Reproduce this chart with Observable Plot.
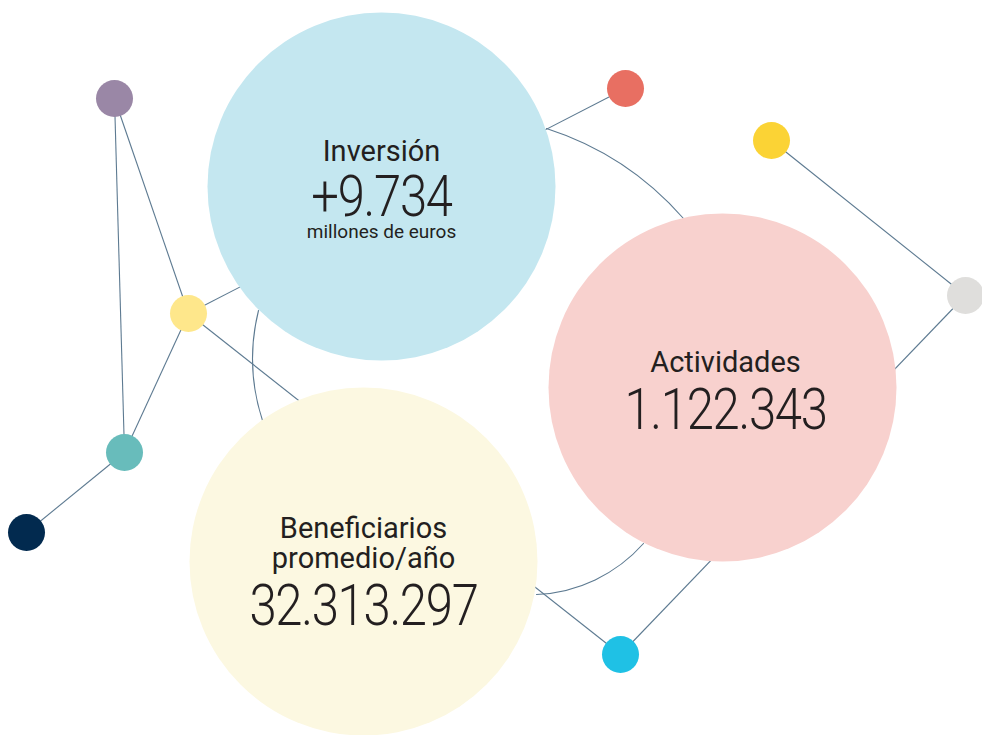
<!DOCTYPE html>
<html>
<head>
<meta charset="utf-8">
<script src="https://cdn.jsdelivr.net/npm/d3@7"></script>
<script src="https://cdn.jsdelivr.net/npm/@observablehq/plot@0.6"></script>
<style>
  html, body { margin: 0; padding: 0; background: #fff; }
  #chart svg { display: block; }
  .bubble-value text { letter-spacing: -1.5px; }
</style>
</head>
<body>
<div id="chart"></div>
<script>
// Small network nodes
const nodeNames  = ["purple", "red", "gold", "grey", "lightYellow", "teal", "navy", "cyan"];
const nodeX      = [114, 625, 771, 965, 188, 124, 26, 620];
const nodeY      = [98, 88, 140, 295, 313, 452, 532, 654];
const nodeColors = ["#9a87a6", "#e86f62", "#fbd335", "#dfdedc", "#fee78b", "#68bcbb", "#022a4f", "#1fc1e5"];

// Straight links between nodes
const linkFrom = ["purple", "purple", "lightYellow", "teal", "red", "lightYellow", "gold", "grey"];
const linkTo   = ["teal", "lightYellow", "teal", "navy", "lightYellow", "cyan", "grey", "cyan"];

// Curved links between the big bubbles (visible end points)
const arcX1   = [546, 258, 536];
const arcY1   = [128, 310, 594];
const arcX2   = [683, 262, 643];
const arcY2   = [218, 420, 543];
const arcBend = [15.5, -16, -23];

// Big bubbles
const bubbleLabels = [["Inversión"], ["Actividades"], ["Beneficiarios", "promedio/año"]];
const bubbleValues = ["+9.734", "1.122.343", "32.313.297"];
const bubbleUnits  = ["millones de euros", "", ""];
const bubbleX      = [381, 722, 363];
const bubbleY      = [186, 387, 561];
const bubbleColors = ["#c4e7f0", "#f8d1ce", "#fcf8e1"];

const nodes = nodeNames.map((n, i) => ({name: n, x: nodeX[i], y: nodeY[i], color: nodeColors[i]}));
const byName = Object.fromEntries(nodes.map(d => [d.name, d]));
const links = linkFrom.map((f, i) => ({x1: byName[f].x, y1: byName[f].y, x2: byName[linkTo[i]].x, y2: byName[linkTo[i]].y}));
const arcs = arcX1.map((x, i) => ({x1: x, y1: arcY1[i], x2: arcX2[i], y2: arcY2[i], bend: arcBend[i]}));
const bubbles = bubbleValues.map((v, i) => ({label: bubbleLabels[i], value: v, unit: bubbleUnits[i], x: bubbleX[i], y: bubbleY[i], color: bubbleColors[i]}));

// label lines
const labelRows = [];
bubbles.forEach(b => {
  const n = b.label.length;
  const valueBaseline = b.unit ? b.y + 29 : b.y + (n === 2 ? 63 : 41);
  const gap = b.unit ? 55 : 57;
  b.label.forEach((t, j) => labelRows.push({x: b.x + (n === 1 && !b.unit ? 3 : 0), y: valueBaseline - gap - (n - 1 - j) * 30, text: t}));
  b.valueBaseline = valueBaseline;
});

const lineColor = "#5d7a91";
const font = "Roboto, 'Noto Sans', sans-serif";

const arcMarks = arcs.map(a => Plot.arrow([a], {x1: "x1", y1: "y1", x2: "x2", y2: "y2", bend: a.bend, headLength: 0, stroke: lineColor, strokeWidth: 1.1}));

const chart = Plot.plot({
  width: 982,
  height: 735,
  margin: 0,
  x: {domain: [0, 982], range: [0, 982], axis: null},
  y: {domain: [0, 735], range: [0, 735], axis: null},
  style: {background: "#ffffff", fontFamily: font},
  marks: [
    Plot.link(links, {x1: "x1", y1: "y1", x2: "x2", y2: "y2", stroke: lineColor, strokeWidth: 1.1}),
    ...arcMarks,
    Plot.dot(nodes, {x: "x", y: "y", r: 18.5, fill: "color", stroke: null}),
    Plot.dot(bubbles, {x: "x", y: "y", r: 174, fill: "color", stroke: null}),
    Plot.text(labelRows, {x: "x", y: "y", text: "text", fontSize: 29, fill: "#231f20", textAnchor: "middle", lineAnchor: "bottom", fontWeight: 400}),
    Plot.text(bubbles, {x: (d) => d.x + (d.unit || d.label.length > 1 ? 0 : 3), y: "valueBaseline", text: "value", fontSize: 57, fill: "#231f20", textAnchor: "middle", lineAnchor: "bottom", fontWeight: 300, className: "bubble-value"}),
    Plot.text(bubbles.filter(b => b.unit), {x: "x", y: (d) => d.valueBaseline + 22, text: "unit", fontSize: 19, fill: "#231f20", textAnchor: "middle", lineAnchor: "bottom"})
  ]
});
document.getElementById("chart").appendChild(chart);
// condense the big figures slightly (narrow display face in the original)
d3.select(chart).selectAll(".bubble-value text").each(function () {
  const w = this.getComputedTextLength();
  d3.select(this).attr("textLength", (w * 0.86).toFixed(1)).attr("lengthAdjust", "spacingAndGlyphs");
});
</script>
</body>
</html>
